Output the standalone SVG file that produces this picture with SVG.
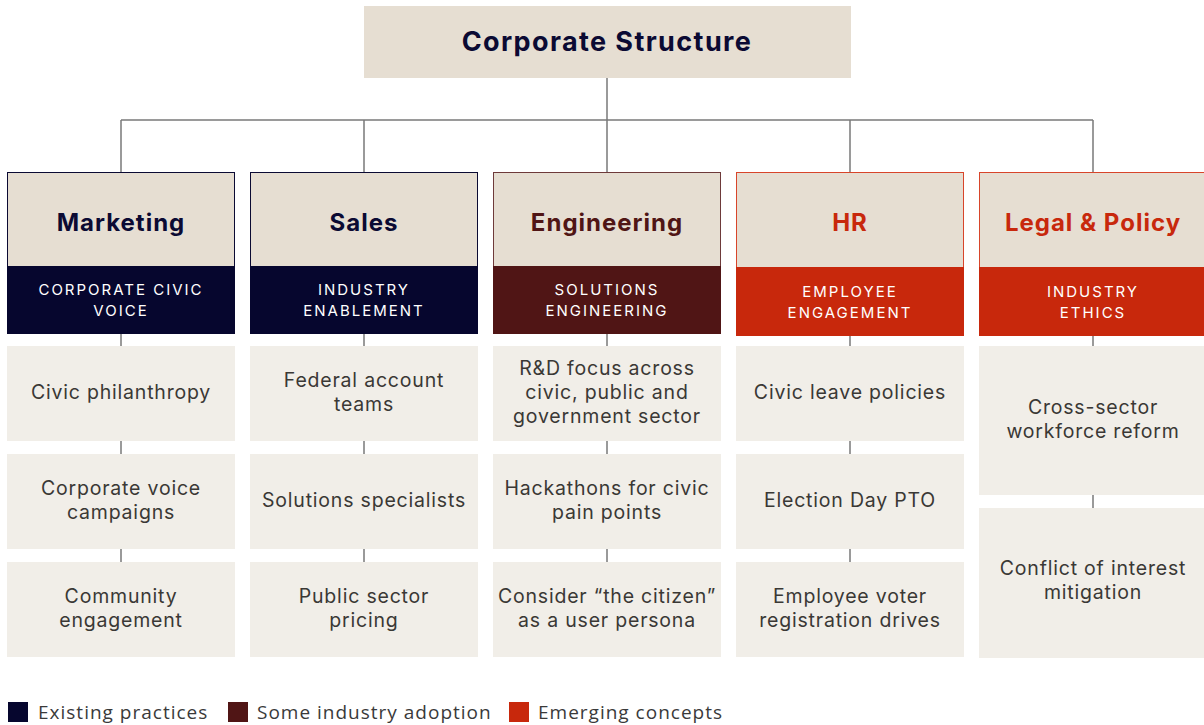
<svg xmlns="http://www.w3.org/2000/svg" width="1204" height="725" viewBox="0 0 1204 725">
  <style>
    .title { font-family: Inter, "Open Sans", sans-serif; font-weight: 700; font-size: 27px; letter-spacing: 1.4px; fill: #0B0A33; text-anchor: middle; dominant-baseline: central; }
    .head { font-family: Inter, "Open Sans", sans-serif; font-weight: 700; font-size: 24px; letter-spacing: 1px; text-anchor: middle; dominant-baseline: central; }
    .sub { font-family: Inter, "Open Sans", sans-serif; font-size: 15px; letter-spacing: 2px; fill: #ffffff; text-anchor: middle; dominant-baseline: central; }
    .item { fill: #F1EEE8; }
    .itxt { font-family: Inter, "Open Sans", sans-serif; font-size: 19.5px; letter-spacing: 0.8px; fill: #3a3835; text-anchor: middle; dominant-baseline: central; }
    .beige { fill: #E6DED2; }
    .conn { stroke: #7a7a7a; stroke-width: 1.5; fill: none; }
    .leg { font-family: "Open Sans", "Noto Sans", sans-serif; font-size: 19px; letter-spacing: 1px; fill: #3a3a3a; }
  </style>

  <!-- connectors -->
  <g id="connectors" class="conn">
    <path d="M607 78 V120 M121 120 H1093 M121 120 V172 M364 120 V172 M607 120 V172 M850 120 V172 M1093 120 V172"/>
    <path d="M121 334 V346 M121 441 V454 M121 549 V562"/>
    <path d="M364 334 V346 M364 441 V454 M364 549 V562"/>
    <path d="M607 334 V346 M607 441 V454 M607 549 V562"/>
    <path d="M850 336 V346 M850 441 V454 M850 549 V562"/>
    <path d="M1093 336 V346 M1093 495 V508"/>
  </g>

  <!-- root -->
  <g id="corporate-structure">
    <rect class="beige" x="364" y="6" width="487" height="72"/>
    <text class="title" x="607" y="41">Corporate Structure</text>
  </g>

  <!-- Marketing -->
  <g id="marketing">
    <rect class="beige" x="7.5" y="172.5" width="227" height="94" stroke="#0B0A33" stroke-width="1"/>
    <rect x="7" y="266" width="228" height="68" fill="#06062E"/>
    <text class="head" x="121" y="222" fill="#0B0A33">Marketing</text>
    <text class="sub" x="121" y="289">CORPORATE CIVIC</text>
    <text class="sub" x="121" y="310">VOICE</text>
  </g>
  <g id="marketing-items">
    <rect class="item" x="7" y="346" width="228" height="95"/>
    <text class="itxt" x="121" y="392">Civic philanthropy</text>
    <rect class="item" x="7" y="454" width="228" height="95"/>
    <text class="itxt" x="121" y="488">Corporate voice</text>
    <text class="itxt" x="121" y="512">campaigns</text>
    <rect class="item" x="7" y="562" width="228" height="95"/>
    <text class="itxt" x="121" y="596">Community</text>
    <text class="itxt" x="121" y="620">engagement</text>
  </g>

  <!-- Sales -->
  <g id="sales">
    <rect class="beige" x="250.5" y="172.5" width="227" height="94" stroke="#0B0A33" stroke-width="1"/>
    <rect x="250" y="266" width="228" height="68" fill="#06062E"/>
    <text class="head" x="364" y="222" fill="#0B0A33">Sales</text>
    <text class="sub" x="364" y="289">INDUSTRY</text>
    <text class="sub" x="364" y="310">ENABLEMENT</text>
  </g>
  <g id="sales-items">
    <rect class="item" x="250" y="346" width="228" height="95"/>
    <text class="itxt" x="364" y="380">Federal account</text>
    <text class="itxt" x="364" y="404">teams</text>
    <rect class="item" x="250" y="454" width="228" height="95"/>
    <text class="itxt" x="364" y="500">Solutions specialists</text>
    <rect class="item" x="250" y="562" width="228" height="95"/>
    <text class="itxt" x="364" y="596">Public sector</text>
    <text class="itxt" x="364" y="620">pricing</text>
  </g>

  <!-- Engineering -->
  <g id="engineering">
    <rect class="beige" x="493.5" y="172.5" width="227" height="94" stroke="#6E3A3A" stroke-width="1"/>
    <rect x="493" y="266" width="228" height="68" fill="#501515"/>
    <text class="head" x="607" y="222" fill="#501515">Engineering</text>
    <text class="sub" x="607" y="289">SOLUTIONS</text>
    <text class="sub" x="607" y="310">ENGINEERING</text>
  </g>
  <g id="engineering-items">
    <rect class="item" x="493" y="346" width="228" height="95"/>
    <text class="itxt" x="607" y="368">R&amp;D focus across</text>
    <text class="itxt" x="607" y="392">civic, public and</text>
    <text class="itxt" x="607" y="416">government sector</text>
    <rect class="item" x="493" y="454" width="228" height="95"/>
    <text class="itxt" x="607" y="488">Hackathons for civic</text>
    <text class="itxt" x="607" y="512">pain points</text>
    <rect class="item" x="493" y="562" width="228" height="95"/>
    <text class="itxt" x="607" y="596">Consider “the citizen”</text>
    <text class="itxt" x="607" y="620">as a user persona</text>
  </g>

  <!-- HR -->
  <g id="hr">
    <rect class="beige" x="736.5" y="172.5" width="227" height="95" stroke="#D8452A" stroke-width="1"/>
    <rect x="736" y="267" width="228" height="69" fill="#C8280C"/>
    <text class="head" x="850" y="222" fill="#C8280C">HR</text>
    <text class="sub" x="850" y="291">EMPLOYEE</text>
    <text class="sub" x="850" y="312">ENGAGEMENT</text>
  </g>
  <g id="hr-items">
    <rect class="item" x="736" y="346" width="228" height="95"/>
    <text class="itxt" x="850" y="392">Civic leave policies</text>
    <rect class="item" x="736" y="454" width="228" height="95"/>
    <text class="itxt" x="850" y="500">Election Day PTO</text>
    <rect class="item" x="736" y="562" width="228" height="95"/>
    <text class="itxt" x="850" y="596">Employee voter</text>
    <text class="itxt" x="850" y="620">registration drives</text>
  </g>

  <!-- Legal & Policy -->
  <g id="legal-policy">
    <rect class="beige" x="979.5" y="172.5" width="227" height="95" stroke="#D8452A" stroke-width="1"/>
    <rect x="979" y="267" width="228" height="69" fill="#C8280C"/>
    <text class="head" x="1093" y="222" fill="#C8280C">Legal &amp; Policy</text>
    <text class="sub" x="1093" y="291">INDUSTRY</text>
    <text class="sub" x="1093" y="312">ETHICS</text>
  </g>
  <g id="legal-policy-items">
    <rect class="item" x="979" y="346" width="228" height="149"/>
    <text class="itxt" x="1093" y="407">Cross-sector</text>
    <text class="itxt" x="1093" y="431">workforce reform</text>
    <rect class="item" x="979" y="508" width="228" height="150"/>
    <text class="itxt" x="1093" y="568">Conflict of interest</text>
    <text class="itxt" x="1093" y="592">mitigation</text>
  </g>

  <!-- legend -->
  <g id="legend">
    <rect x="8" y="702" width="20" height="20" fill="#06062E"/>
    <text class="leg" x="38" y="719">Existing practices</text>
    <rect x="228" y="702" width="20" height="20" fill="#501515"/>
    <text class="leg" x="257" y="719">Some industry adoption</text>
    <rect x="509" y="702" width="20" height="20" fill="#C8280C"/>
    <text class="leg" x="538" y="719">Emerging concepts</text>
  </g>
</svg>
